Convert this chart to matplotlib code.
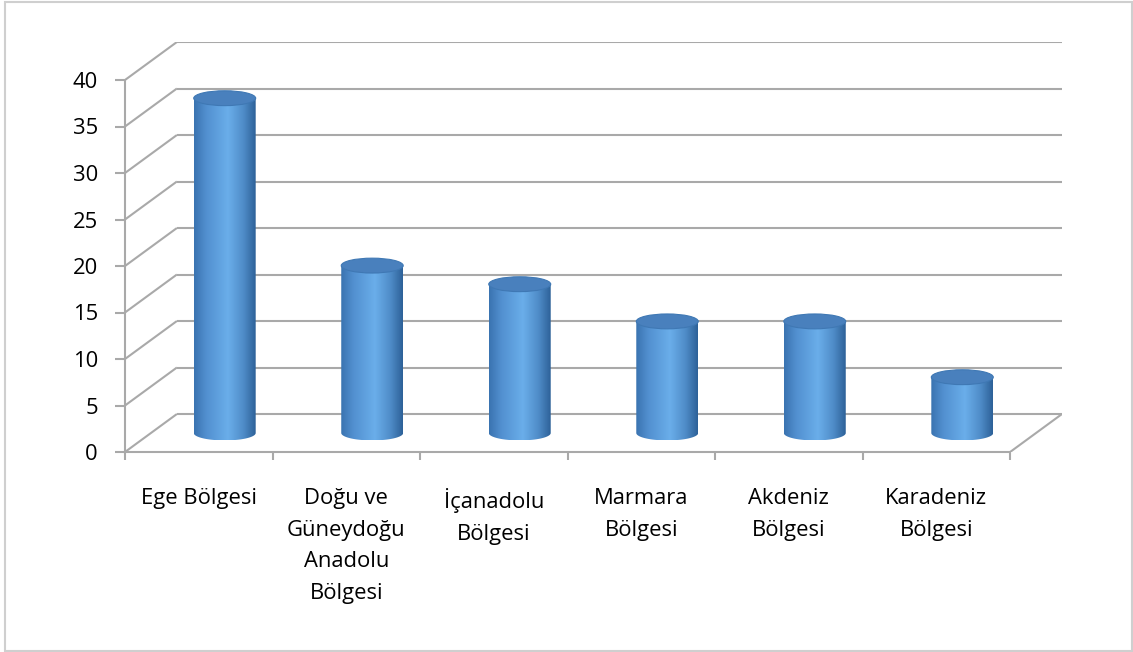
import numpy as np
import matplotlib
matplotlib.use('Agg')
import matplotlib.pyplot as plt
from matplotlib.path import Path
from matplotlib.patches import PathPatch, Ellipse, Rectangle
from matplotlib.colors import LinearSegmentedColormap

# ---- data ----
categories = ['Ege Bölgesi', 'Doğu ve\nGüneydoğu\nAnadolu\nBölgesi', 'İçanadolu\nBölgesi',
              'Marmara\nBölgesi', 'Akdeniz\nBölgesi', 'Karadeniz\nBölgesi']
values = [36, 18, 16, 12, 12, 6]
y_ticks = [0, 5, 10, 15, 20, 25, 30, 35, 40]

plt.rcParams['font.family'] = ['Open Sans', 'DejaVu Sans']

W, H = 1133, 652
fig = plt.figure(figsize=(W / 100, H / 100), dpi=100)
ax = fig.add_axes([125 / W, 200 / H, 937 / W, 410 / H])

n = len(categories)
DX = 52 / 147.8   # depth offset in category units
DY = 38 / 9.3     # depth offset in value units
XMAX = n + DX
YMAX = y_ticks[-1] + DY

grid_color = '#a9a9a9'
glw = 1.5

# back wall gridlines and side wall diagonals
for v in y_ticks:
    ax.plot([DX, XMAX], [v + DY, v + DY], color=grid_color, lw=glw, zorder=1,
            solid_capstyle='butt')
    ax.plot([0, DX], [v, v + DY], color=grid_color, lw=glw, zorder=1,
            solid_capstyle='butt')
# floor right edge
ax.plot([n, XMAX], [0, DY], color=grid_color, lw=glw, zorder=1, solid_capstyle='butt')

# spines
for s in ['top', 'right']:
    ax.spines[s].set_visible(False)
ax.spines['left'].set_bounds(0, y_ticks[-1])
ax.spines['bottom'].set_bounds(0, n)
for s in ['left', 'bottom']:
    ax.spines[s].set_color(grid_color)
    ax.spines[s].set_linewidth(glw)
ax.set_facecolor('none')

ax.set_yticks(y_ticks)
ax.set_yticklabels([str(t) for t in y_ticks])
ax.tick_params(axis='y', length=7.5, width=glw, color=grid_color, pad=12,
               labelsize=15.8, labelcolor='black')
ax.set_xticks(np.arange(n + 1))
ax.set_xticklabels([''] * (n + 1))
ax.tick_params(axis='x', which='major', length=6, width=glw, color=grid_color)
ax.set_xticks(np.arange(n) + 0.5, minor=True)
ax.set_xticklabels(categories, minor=True, linespacing=1.66)
ax.tick_params(axis='x', which='minor', length=0, pad=26, labelsize=15.8,
               labelcolor='black')

# cylinders
cmap = LinearSegmentedColormap.from_list('cyl', [
    (0.0, '#3a73b0'), (0.2, '#5290d0'), (0.55, '#6aaeea'),
    (0.8, '#4f8cc8'), (1.0, '#2d6198')])
grad = np.linspace(0, 1, 256).reshape(1, -1)
R = 0.21
RY = 0.8
theta = np.linspace(np.pi, 2 * np.pi, 80)
for i, v in enumerate(values):
    cx = i + 0.5 + DX / 2
    base = DY / 2
    top = base + v
    ax_ = cx + R * np.cos(theta)
    ay_ = base + RY * np.sin(theta)
    verts = [(cx - R, top)] + list(zip(ax_, ay_)) + [(cx + R, top), (cx - R, top)]
    codes = [Path.MOVETO] + [Path.LINETO] * (len(verts) - 2) + [Path.CLOSEPOLY]
    clip = PathPatch(Path(verts, codes), facecolor='none', edgecolor='none', zorder=3)
    ax.add_patch(clip)
    im = ax.imshow(grad, extent=[cx - R, cx + R, base - RY, top], aspect='auto',
                   cmap=cmap, zorder=3, interpolation='bilinear')
    im.set_clip_path(clip)
    ax.add_patch(Ellipse((cx, top), 2 * R, 2 * RY, facecolor='#4980bd',
                         edgecolor='#3f78b4', lw=0.8, zorder=4))

ax.set_xlim(0, XMAX)
ax.set_ylim(0, YMAX)

# chart border
fig.add_artist(Rectangle((5 / W, 1 / H), (1132 - 5) / W, (650 - 1) / H,
                         transform=fig.transFigure, fill=False,
                         edgecolor='#cfcfcf', lw=1.5))

fig.savefig('out.png', dpi=100)
